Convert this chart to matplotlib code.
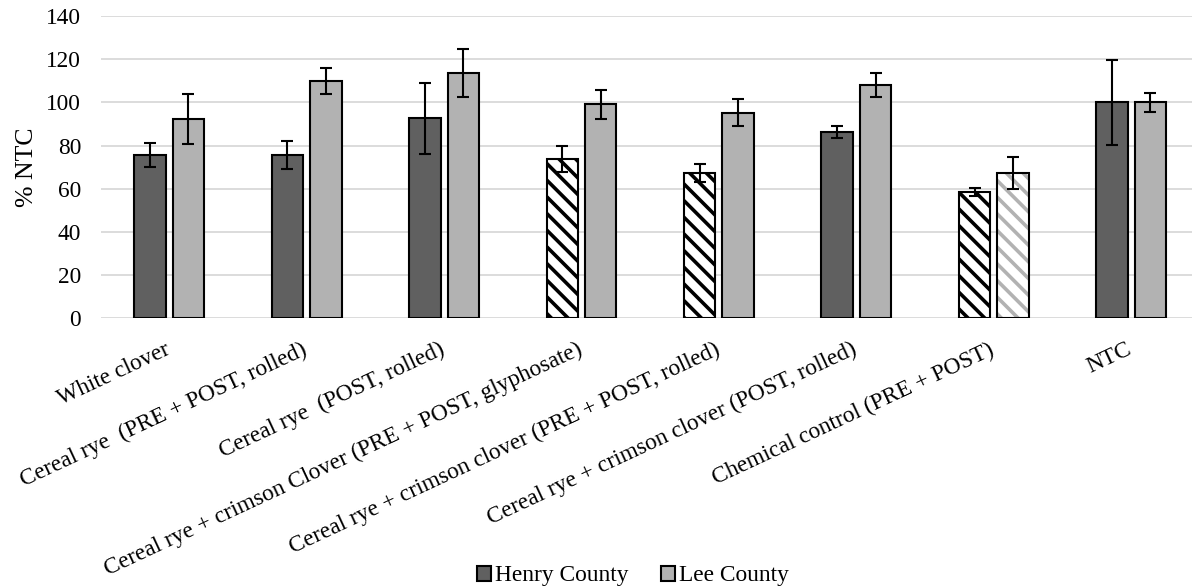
"""Weed biomass as % of the non-treated control, Henry vs Lee County."""

import matplotlib
matplotlib.use("Agg")
import matplotlib.pyplot as plt
import matplotlib.transforms as mtransforms
from matplotlib.patches import Patch
import numpy as np

TREATMENTS = [
    "White clover",
    "Cereal rye  (PRE + POST, rolled)",
    "Cereal rye  (POST, rolled)",
    "Cereal rye + crimson Clover (PRE + POST, glyphosate)",
    "Cereal rye + crimson clover (PRE + POST, rolled)",
    "Cereal rye + crimson clover (POST, rolled)",
    "Chemical control (PRE + POST)",
    "NTC",
]
HENRY = [75.5, 75.6, 92.7, 73.8, 67.2, 86.3, 58.5, 100.0]
HENRY_ERR = [5.6, 6.3, 16.4, 6.0, 4.3, 2.7, 1.7, 19.7]
LEE = [92.5, 109.9, 113.6, 99.1, 95.2, 107.9, 67.3, 100.0]
LEE_ERR = [11.6, 5.8, 11.1, 6.6, 6.2, 5.6, 7.6, 4.4]
# bars drawn hatched in the source figure
HENRY_HATCHED = [False, False, False, True, True, False, True, False]
LEE_HATCHED = [False, False, False, False, False, False, True, False]

HENRY_COLOR = "#606060"
LEE_COLOR = "#b2b2b2"
FONT = "Liberation Serif"

plt.rcParams["font.family"] = [FONT, "DejaVu Serif"]
plt.rcParams["hatch.linewidth"] = 2.6

W, H = 1192, 588
fig = plt.figure(figsize=(W / 100, H / 100), dpi=100)
# axes deliberately runs past the right edge, as in the cropped original
ax = fig.add_axes([100.5 / W, 1 - 318.3 / H, 1099.4 / W, 302.3 / H])

x = np.arange(len(TREATMENTS))
width = 0.229
off = 0.14


def draw_series(xs, vals, errs, hatched, color, hatch_color):
    for xi, v, e, hat in zip(xs, vals, errs, hatched):
        if hat:
            ax.bar(xi, v, width, color="white", hatch="\\\\", edgecolor=hatch_color,
                   linewidth=0, zorder=2)
            ax.bar(xi, v, width, fill=False, edgecolor="black", linewidth=1.5,
                   zorder=3)
        else:
            ax.bar(xi, v, width, color=color, edgecolor="black", linewidth=1.5,
                   zorder=2)
        ax.errorbar(xi, v, yerr=e, fmt="none", ecolor="black", elinewidth=1.5,
                    capsize=4.5, capthick=1.5, zorder=4)


draw_series(x - off, HENRY, HENRY_ERR, HENRY_HATCHED, HENRY_COLOR, "black")
draw_series(x + off, LEE, LEE_ERR, LEE_HATCHED, LEE_COLOR, LEE_COLOR)

ax.set_xlim(-0.5, len(TREATMENTS) - 0.5)
ax.set_ylim(0, 140)
ax.set_yticks(range(0, 141, 20))
ax.yaxis.grid(True, color="#d9d9d9", linewidth=1.3, zorder=0)
ax.set_axisbelow(True)
for s in ax.spines.values():
    s.set_visible(False)
ax.tick_params(axis="both", length=0, labelsize=16.8)
ax.tick_params(axis="y", pad=14)
ax.tick_params(axis="x", pad=15)
ax.set_xticks(x)
ax.set_xticklabels(TREATMENTS, rotation=25, ha="right", rotation_mode="anchor")
shift = mtransforms.ScaledTranslation(-0.05, 0, fig.dpi_scale_trans)
for lbl in ax.get_xticklabels():
    lbl.set_transform(lbl.get_transform() + shift)
ax.set_ylabel("% NTC", fontsize=18.5, labelpad=6)

handles = [Patch(facecolor=HENRY_COLOR, edgecolor="black", linewidth=1.5),
           Patch(facecolor=LEE_COLOR, edgecolor="black", linewidth=1.5)]
fig.legend(handles, ["Henry County", "Lee County"], loc="center",
           bbox_to_anchor=(633 / W, 12 / H), ncol=2, frameon=False,
           fontsize=16.8, handlelength=0.6, handleheight=0.6,
           handletextpad=0.15, columnspacing=1.4)

fig.savefig("out.png", dpi=100)
